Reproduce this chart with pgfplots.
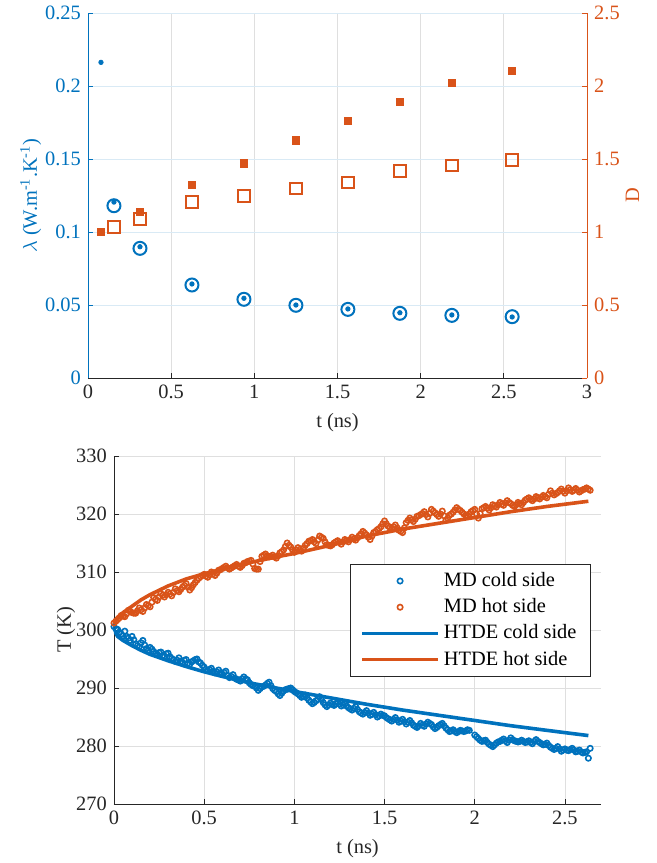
\documentclass[border=0pt]{standalone}
\usepackage{fontspec}
\setmainfont{Liberation Serif}
\usepackage{pgfplots}
\pgfplotsset{compat=1.18}
\definecolor{mblue}{RGB}{0,114,189}
\definecolor{morange}{RGB}{217,83,25}
\definecolor{axgray}{RGB}{38,38,38}
\definecolor{gridgray}{RGB}{223,223,223}
\definecolor{gridblue}{RGB}{217,234,245}
\begin{document}
\fontsize{10.2}{12}\selectfont
\begin{tikzpicture}
\useasboundingbox (0pt,0pt) rectangle (328.5pt,-431.5pt);
\pgfplotsset{
  every axis/.append style={
    scale only axis,
    font=\fontsize{10.2}{12}\selectfont,
    /pgf/number format/assume math mode=true,
    tick align=inside,
    major tick length=2.5pt,
    tick style={line width=0.4pt},
    axis line style={line width=0.45pt},
    every axis x grid/.append style={gridgray, line width=0.4pt},
    every axis y grid/.append style={gridgray, line width=0.4pt},
  },
  every axis x label/.append style={text=axgray},
}
% ---------------- top: lambda (left) ----------------
\begin{axis}[
  at={(44pt,-189pt)}, anchor=south west,
  width=249.5pt, height=182.5pt,
  xmin=0, xmax=3, ymin=0, ymax=0.25,
  axis x line*=bottom, axis y line*=left,
  xtick={0,0.5,1,1.5,2,2.5,3}, xticklabels={0,0.5,1,1.5,2,2.5,3},
  ytick={0,0.05,0.1,0.15,0.2,0.25}, yticklabels={0,0.05,0.1,0.15,0.2,0.25},
  xmajorgrids, ymajorgrids,
  every axis y grid/.append style={gridblue},
  x axis line style={axgray}, xtick style={axgray}, xticklabel style={text=axgray},
  y axis line style={mblue}, ytick style={mblue}, yticklabel style={text=mblue},
  xlabel={t (ns)}, ylabel={$\lambda$ (W.m\textsuperscript{-1}.K\textsuperscript{-1})},
  ylabel style={text=mblue}, ylabel shift=-5pt,
]
\addplot[only marks, mark=*, mark size=1.1pt, color=mblue] coordinates {
(0.078,0.2162) (0.156,0.1205) (0.3125,0.0899) (0.625,0.0644) (0.9375,0.0546)
(1.25,0.0500) (1.5625,0.0473) (1.875,0.0447) (2.1875,0.0432) (2.55,0.0418)};
\addplot[only marks, mark=o, mark size=3.25pt, color=mblue, mark options={line width=1pt}] coordinates {
(0.156,0.1180) (0.3125,0.0888) (0.625,0.0637) (0.9375,0.0539)
(1.25,0.0498) (1.5625,0.0470) (1.875,0.0443) (2.1875,0.0429) (2.55,0.0420)};
\end{axis}
% ---------------- top: D (right) ----------------
\begin{axis}[
  at={(44pt,-189pt)}, anchor=south west,
  width=249.5pt, height=182.5pt,
  xmin=0, xmax=3, ymin=0, ymax=2.5,
  axis x line=none, axis y line*=right,
  ytick={0,0.5,1,1.5,2,2.5}, yticklabels={0,0.5,1,1.5,2,2.5},
  y axis line style={morange}, ytick style={morange}, yticklabel style={text=morange},
  ylabel={D}, ylabel style={text=morange}, ylabel shift=-4pt,
]
\addplot[only marks, mark=square*, mark size=1.8pt, color=morange] coordinates {
(0.078,1.00) (0.3125,1.135) (0.625,1.32) (0.9375,1.47) (1.25,1.628)
(1.5625,1.76) (1.875,1.89) (2.1875,2.02) (2.55,2.105)};
\addplot[only marks, mark=square, mark size=2.85pt, color=morange, mark options={line width=1pt}] coordinates {
(0.156,1.034) (0.3125,1.089) (0.625,1.205) (0.9375,1.247) (1.25,1.30)
(1.5625,1.338) (1.875,1.418) (2.1875,1.454) (2.55,1.493)};
\end{axis}
% ---------------- bottom: temperatures ----------------
\begin{axis}[
  at={(57pt,-402pt)}, anchor=south west,
  width=243.5pt, height=174pt,
  xmin=0, xmax=2.7, ymin=270, ymax=330,
  axis x line*=bottom, axis y line*=left,
  xtick={0,0.5,1,1.5,2,2.5}, xticklabels={0,0.5,1,1.5,2,2.5},
  ytick={270,280,290,300,310,320,330},
  xmajorgrids, ymajorgrids,
  axis line style={axgray}, tick style={axgray}, ticklabel style={text=axgray},
  xlabel={t (ns)}, ylabel={T (K)}, ylabel style={text=axgray}, ylabel shift=-6.5pt,
  legend image code/.code={\draw[mark repeat=2,mark phase=2,#1] plot coordinates {(0pt,0pt) (19pt,0pt) (38pt,0pt)};},
  legend cell align=left,
  legend style={at={(0.485,0.690)}, anchor=north west, draw=axgray, line width=0.5pt,
    fill=white, font=\fontsize{10.2}{12}\selectfont, row sep=0.5pt, inner xsep=4.8pt},
]
\addplot[only marks, mark=o, mark size=1.35pt, color=mblue, mark options={line width=0.8pt}] coordinates {
(0.00,300.6) (0.02,300.1) (0.04,299.3) (0.06,299.8) (0.08,298.6) (0.10,298.9)
(0.12,297.6) (0.14,297.1) (0.16,298.2) (0.18,296.8) (0.20,297.0) (0.22,296.3)
(0.24,295.8) (0.26,296.2) (0.28,295.5) (0.30,296.0) (0.32,295.1) (0.34,294.6)
(0.36,295.2) (0.38,294.4) (0.40,294.9) (0.42,294.1) (0.44,294.7) (0.46,295.0)
(0.48,294.3) (0.50,293.6) (0.52,293.0) (0.54,293.4) (0.56,292.6) (0.58,293.1)
(0.60,292.4) (0.62,292.9) (0.64,291.8) (0.66,292.3) (0.68,291.5) (0.70,291.2)
(0.72,291.9) (0.74,291.4) (0.76,290.6) (0.78,290.3) (0.80,289.6) (0.82,290.2)
(0.84,290.5) (0.86,291.0) (0.88,289.9) (0.90,289.4) (0.92,288.7) (0.94,289.5)
(0.96,289.8) (0.98,290.0) (1.00,289.4) (1.02,289.0) (1.04,288.4) (1.06,288.8)
(1.08,287.9) (1.10,287.3) (1.12,287.8) (1.14,288.5) (1.16,287.5) (1.18,286.8)
(1.20,287.4) (1.22,287.0) (1.24,287.6) (1.26,286.9) (1.28,287.3) (1.30,286.6)
(1.32,286.2) (1.34,286.8) (1.36,285.9) (1.38,285.5) (1.40,286.1) (1.42,285.3)
(1.44,285.8) (1.46,285.0) (1.48,285.5) (1.50,285.2) (1.52,284.7) (1.54,284.3)
(1.56,284.9) (1.58,284.1) (1.60,284.6) (1.62,283.8) (1.64,284.4) (1.66,283.6)
(1.68,283.2) (1.70,283.9) (1.72,283.4) (1.74,284.1) (1.76,283.7) (1.78,283.0)
(1.80,283.5) (1.82,283.9) (1.84,283.1) (1.86,282.5) (1.88,282.8) (1.90,282.3)
(1.92,282.7) (1.94,282.5) (1.96,282.8) (2.00,281.9) (2.02,281.3) (2.04,280.8)
(2.06,281.0) (2.08,280.3) (2.10,279.9) (2.12,280.5) (2.14,280.8) (2.16,281.2)
(2.18,280.6) (2.20,281.4) (2.22,280.9) (2.24,280.7) (2.26,281.0) (2.28,280.6)
(2.30,280.9) (2.32,280.4) (2.34,281.1) (2.36,280.6) (2.38,280.2) (2.40,280.5)
(2.42,279.8) (2.44,279.4) (2.46,279.9) (2.48,279.1) (2.50,279.5) (2.52,279.2)
(2.54,279.6) (2.56,279.0) (2.58,279.3) (2.60,278.8) (2.62,279.0) (2.63,277.9)
(2.64,279.6)
(0.01,300.2) (0.03,299.6) (0.05,299.0) (0.07,298.9) (0.09,298.2) (0.11,298.3)
(0.13,297.3) (0.15,297.8) (0.17,297.4) (0.19,296.5) (0.21,296.7) (0.23,295.9)
(0.25,296.1) (0.27,295.6) (0.29,295.9) (0.31,295.4) (0.33,294.9) (0.35,294.8)
(0.37,294.6) (0.39,294.8) (0.41,294.3) (0.43,294.5) (0.45,294.9) (0.47,294.5)
(0.49,293.9) (0.51,293.2) (0.53,293.2) (0.55,292.9) (0.57,292.8) (0.59,292.6)
(0.61,292.7) (0.63,292.2) (0.65,292.0) (0.67,291.7) (0.69,291.4) (0.71,291.6)
(0.73,291.6) (0.75,290.9) (0.77,290.4) (0.79,290.0) (0.81,289.9) (0.83,290.3)
(0.85,290.8) (0.87,290.4) (0.89,289.6) (0.91,289.0) (0.93,289.1) (0.95,289.7)
(0.97,289.9) (0.99,289.7) (1.01,289.2) (1.03,288.7) (1.05,288.6) (1.07,288.3)
(1.09,287.6) (1.11,287.5) (1.13,288.1) (1.15,288.0) (1.17,287.1) (1.19,287.1)
(1.21,287.2) (1.23,287.3) (1.25,287.2) (1.27,287.1) (1.29,286.9) (1.31,286.4)
(1.33,286.5) (1.35,286.3) (1.37,285.7) (1.39,285.8) (1.41,285.7) (1.43,285.5)
(1.45,285.4) (1.47,285.2) (1.49,285.3) (1.51,284.9) (1.53,284.5) (1.55,284.6)
(1.57,284.5) (1.59,284.3) (1.61,284.2) (1.63,284.1) (1.65,284.0) (1.67,283.4)
(1.69,283.5) (1.71,283.6) (1.73,283.8) (1.75,283.9) (1.77,283.3) (1.79,283.2)
(1.81,283.7) (1.83,283.5) (1.85,282.8) (1.87,282.6) (1.89,282.5) (1.91,282.5)
(1.93,282.6) (1.95,282.6) (1.97,282.7) (2.01,281.6) (2.03,281.0) (2.05,280.9)
(2.07,280.6) (2.09,280.1) (2.11,280.2) (2.13,280.7) (2.15,281.0) (2.17,280.9)
(2.19,281.0) (2.21,281.1) (2.23,280.8) (2.25,280.8) (2.27,280.8) (2.29,280.7)
(2.31,280.6) (2.33,280.8) (2.35,280.8) (2.37,280.4) (2.39,280.3) (2.41,280.1)
(2.43,279.6) (2.45,279.6) (2.47,279.5) (2.49,279.3) (2.51,279.3) (2.53,279.4)
(2.55,279.3) (2.57,279.1) (2.59,279.0) (2.61,278.9)};
\addlegendentry{MD cold side}
\addplot[only marks, mark=o, mark size=1.35pt, color=morange, mark options={line width=0.8pt}] coordinates {
(0.00,301.2) (0.02,301.8) (0.04,302.5) (0.06,302.3) (0.08,303.4) (0.10,303.0)
(0.12,302.9) (0.14,303.8) (0.16,303.2) (0.18,304.4) (0.20,304.0) (0.22,305.6)
(0.24,305.1) (0.26,306.3) (0.28,305.7) (0.30,306.5) (0.32,305.9) (0.34,307.1)
(0.36,306.6) (0.38,307.4) (0.40,308.0) (0.42,306.9) (0.44,307.8) (0.46,308.6)
(0.48,309.2) (0.50,309.6) (0.52,309.1) (0.54,310.0) (0.56,309.4) (0.58,310.3)
(0.60,310.6) (0.62,311.0) (0.64,310.5) (0.66,310.9) (0.68,311.3) (0.70,310.8)
(0.72,311.5) (0.74,311.8) (0.76,312.0) (0.78,310.6) (0.80,310.5) (0.82,312.7)
(0.84,313.1) (0.86,312.6) (0.88,312.9) (0.90,312.4) (0.92,313.3) (0.94,313.8)
(0.96,315.0) (0.98,314.3) (1.00,313.4) (1.02,314.2) (1.04,313.6) (1.06,314.6)
(1.08,315.3) (1.10,315.6) (1.12,314.9) (1.14,316.2) (1.16,315.8) (1.18,314.7)
(1.20,314.5) (1.22,315.0) (1.24,315.4) (1.26,314.8) (1.28,315.6) (1.30,315.2)
(1.32,316.0) (1.34,315.5) (1.36,316.3) (1.38,317.0) (1.40,316.4) (1.42,315.6)
(1.44,316.8) (1.46,317.3) (1.48,317.8) (1.50,318.8) (1.52,317.9) (1.54,317.5)
(1.56,318.1) (1.58,317.2) (1.60,316.8) (1.62,318.5) (1.64,319.3) (1.66,318.7)
(1.68,319.6) (1.70,319.9) (1.72,320.4) (1.74,319.5) (1.76,320.8) (1.78,320.2)
(1.80,319.6) (1.82,320.5) (1.84,318.9) (1.86,319.8) (1.88,320.3) (1.90,321.1)
(1.92,320.6) (1.94,320.0) (1.96,319.7) (1.98,320.4) (2.00,320.8) (2.02,319.3)
(2.04,320.9) (2.06,321.3) (2.08,320.7) (2.10,321.6) (2.12,321.2) (2.14,322.0)
(2.16,321.5) (2.18,322.3) (2.20,321.8) (2.22,321.3) (2.24,322.0) (2.26,321.6)
(2.28,322.4) (2.30,322.8) (2.32,322.3) (2.34,323.0) (2.36,322.6) (2.38,323.2)
(2.40,322.8) (2.42,324.0) (2.44,323.3) (2.46,323.7) (2.48,324.3) (2.50,323.6)
(2.52,324.5) (2.54,323.9) (2.56,324.4) (2.58,323.8) (2.60,324.2) (2.62,324.5)
(2.64,324.1)
(0.01,301.5) (0.03,302.1) (0.05,302.4) (0.07,302.8) (0.09,303.2) (0.11,302.9)
(0.13,303.3) (0.15,303.5) (0.17,303.8) (0.19,304.2) (0.21,304.8) (0.23,305.3)
(0.25,305.7) (0.27,306.0) (0.29,306.1) (0.31,306.2) (0.33,306.5) (0.35,306.8)
(0.37,307.0) (0.39,307.7) (0.41,307.4) (0.43,307.3) (0.45,308.2) (0.47,308.9)
(0.49,309.4) (0.51,309.3) (0.53,309.5) (0.55,309.7) (0.57,309.8) (0.59,310.4)
(0.61,310.8) (0.63,310.7) (0.65,310.7) (0.67,311.1) (0.69,311.0) (0.71,311.1)
(0.73,311.6) (0.75,311.9) (0.77,311.4) (0.79,310.5) (0.81,311.8) (0.83,312.9)
(0.85,312.8) (0.87,312.7) (0.89,312.6) (0.91,312.8) (0.93,313.5) (0.95,314.4)
(0.97,314.6) (0.99,313.8) (1.01,313.8) (1.03,313.9) (1.05,314.1) (1.07,314.9)
(1.09,315.4) (1.11,315.2) (1.13,315.5) (1.15,316.0) (1.17,315.2) (1.19,314.6)
(1.21,314.7) (1.23,315.2) (1.25,315.1) (1.27,315.2) (1.29,315.4) (1.31,315.6)
(1.33,315.7) (1.35,315.9) (1.37,316.6) (1.39,316.7) (1.41,316.0) (1.43,316.2)
(1.45,317.0) (1.47,317.5) (1.49,318.3) (1.51,318.3) (1.53,317.7) (1.55,317.8)
(1.57,317.6) (1.59,317.0) (1.61,317.6) (1.63,318.9) (1.65,319.0) (1.67,319.1)
(1.69,319.7) (1.71,320.1) (1.73,319.9) (1.75,320.1) (1.77,320.5) (1.79,319.9)
(1.81,320.0) (1.83,319.7) (1.85,319.3) (1.87,320.0) (1.89,320.7) (1.91,320.8)
(1.93,320.3) (1.95,319.8) (1.97,320.0) (1.99,320.6) (2.01,320.0) (2.03,320.1)
(2.05,321.1) (2.07,321.0) (2.09,321.1) (2.11,321.4) (2.13,321.6) (2.15,321.7)
(2.17,321.9) (2.19,322.0) (2.21,321.5) (2.23,321.6) (2.25,321.8) (2.27,322.0)
(2.29,322.6) (2.31,322.5) (2.33,322.6) (2.35,322.8) (2.37,322.9) (2.39,323.0)
(2.41,323.4) (2.43,323.6) (2.45,323.5) (2.47,324.0) (2.49,323.9) (2.51,324.0)
(2.53,324.2) (2.55,324.1) (2.57,324.1) (2.59,324.0) (2.61,324.3) (2.63,324.3)};
\addlegendentry{MD hot side}
\addplot[mblue, line width=1.8pt] coordinates {
(0,300.0) (0.02,298.9) (0.05,298.2) (0.1,297.3) (0.15,296.5) (0.2,295.8)
(0.3,294.7) (0.4,293.7) (0.5,292.8) (0.6,292.0) (0.75,290.9) (0.9,290.0)
(1.0,289.4) (1.2,288.3) (1.4,287.2) (1.6,286.2) (1.8,285.3) (2.0,284.4)
(2.2,283.5) (2.4,282.7) (2.63,281.8)};
\addlegendentry{HTDE cold side}
\addplot[morange, line width=1.8pt] coordinates {
(0,301.0) (0.02,302.2) (0.05,303.0) (0.1,304.1) (0.15,305.2) (0.2,306.1)
(0.3,307.6) (0.4,308.8) (0.5,309.7) (0.6,310.5) (0.75,311.6) (0.9,312.6)
(1.0,313.2) (1.2,314.6) (1.4,316.2) (1.6,317.4) (1.8,318.4) (2.0,319.4)
(2.2,320.4) (2.4,321.3) (2.63,322.2)};
\addlegendentry{HTDE hot side}
\end{axis}
\end{tikzpicture}
\end{document}
